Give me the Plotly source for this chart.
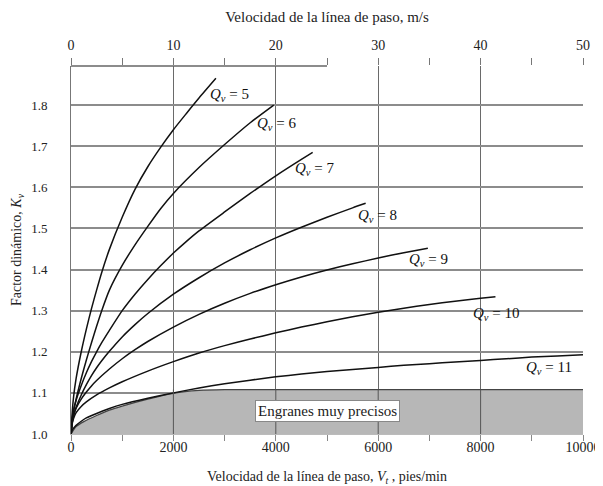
import plotly.graph_objects as go

# ---------------- data ----------------
QUALITY = [5, 6, 7, 8, 9, 10, 11]

V_Q5 = [0, 25, 50, 100, 200, 300, 400, 500, 600, 750, 1000, 1250, 1500, 1750, 2000, 2250, 2500, 2830]
K_Q5 = [1.0, 1.055, 1.09, 1.135, 1.2, 1.255, 1.305, 1.35, 1.393, 1.449, 1.527, 1.595, 1.65, 1.697, 1.74, 1.779, 1.817, 1.865]

V_Q6 = [0, 25, 50, 100, 200, 300, 400, 500, 600, 750, 1000, 1250, 1500, 1750, 2000, 2500, 3000, 3500, 3960]
K_Q6 = [1.0, 1.035, 1.055, 1.085, 1.135, 1.18, 1.222, 1.262, 1.3, 1.35, 1.41, 1.46, 1.505, 1.548, 1.585, 1.648, 1.704, 1.757, 1.80]

V_Q7 = [0, 25, 50, 100, 200, 300, 400, 500, 600, 750, 1000, 1250, 1500, 1750, 2000, 2250, 2500, 3000, 3500, 4000, 4500, 4720]
K_Q7 = [1.0, 1.04, 1.058, 1.082, 1.118, 1.149, 1.176, 1.2, 1.222, 1.252, 1.3, 1.34, 1.376, 1.409, 1.44, 1.468, 1.494, 1.54, 1.585, 1.628, 1.668, 1.685]

V_Q8 = [0, 25, 50, 100, 200, 300, 400, 500, 600, 750, 1000, 1250, 1500, 2000, 2500, 3000, 3500, 4000, 4500, 5000, 5500, 5755]
K_Q8 = [1.0, 1.028, 1.045, 1.065, 1.095, 1.12, 1.142, 1.161, 1.178, 1.201, 1.236, 1.266, 1.293, 1.34, 1.38, 1.416, 1.448, 1.477, 1.503, 1.527, 1.55, 1.561]

V_Q9 = [0, 25, 50, 100, 200, 300, 400, 500, 750, 1000, 1250, 1500, 2000, 2500, 3000, 3500, 4000, 4500, 5000, 5500, 6000, 6500, 6970]
K_Q9 = [1.0, 1.03, 1.045, 1.063, 1.085, 1.102, 1.117, 1.13, 1.158, 1.183, 1.205, 1.225, 1.26, 1.291, 1.318, 1.342, 1.363, 1.382, 1.399, 1.414, 1.428, 1.441, 1.452]

V_Q10 = [0, 25, 50, 100, 200, 300, 500, 750, 1000, 1500, 2000, 2500, 3000, 3500, 4000, 4500, 5000, 5500, 6000, 6500, 7000, 7500, 8000, 8290]
K_Q10 = [1.0, 1.026, 1.038, 1.052, 1.067, 1.078, 1.095, 1.112, 1.127, 1.153, 1.176, 1.197, 1.215, 1.231, 1.246, 1.26, 1.273, 1.285, 1.296, 1.306, 1.315, 1.323, 1.33, 1.334]

V_Q11 = [0, 25, 50, 100, 200, 300, 500, 750, 1000, 1500, 2000, 2500, 3000, 3500, 4000, 4500, 5000, 5500, 6000, 6500, 7000, 7500, 8000, 8500, 9000, 9500, 10000]
K_Q11 = [1.0, 1.009, 1.014, 1.021, 1.031, 1.039, 1.05, 1.062, 1.072, 1.087, 1.1, 1.112, 1.122, 1.131, 1.139, 1.146, 1.152, 1.157, 1.162, 1.167, 1.171, 1.175, 1.179, 1.183, 1.187, 1.19, 1.193]

# shaded "very precise gears" zone (upper boundary)
V_SHADE = [0, 100, 250, 500, 750, 1000, 1500, 2000, 2500, 3000, 10000]
K_SHADE = [1.0, 1.018, 1.03, 1.045, 1.058, 1.068, 1.085, 1.099, 1.106, 1.108, 1.108]

X_TICKS = [0, 2000, 4000, 6000, 8000, 10000]
TOP_TICKS = [0, 10, 20, 30, 40, 50]
Y_TICKS = [1.0, 1.1, 1.2, 1.3, 1.4, 1.5, 1.6, 1.7, 1.8]

SERIES_V = [V_Q5, V_Q6, V_Q7, V_Q8, V_Q9, V_Q10, V_Q11]
SERIES_K = [K_Q5, K_Q6, K_Q7, K_Q8, K_Q9, K_Q10, K_Q11]

# ---------------- label placement (layout) ----------------
LABEL_V = [3100, 4020, 4755, 5980, 6990, 8310, 9340]
LABEL_K = [1.825, 1.755, 1.645, 1.531, 1.422, 1.293, 1.16]
BOX_V, BOX_K = 5000, 1.055
TOP_LINE_END = 25

FONT = "Liberation Serif"

fig = go.Figure()

fig.add_trace(go.Scatter(
    x=V_SHADE, y=K_SHADE, mode="lines", fill="tozeroy",
    fillcolor="#b7b7b7", line=dict(color="#444", width=1.3, shape="spline", smoothing=0.6),
    hoverinfo="skip", showlegend=False))

for q, vs, ks in zip(QUALITY, SERIES_V, SERIES_K):
    fig.add_trace(go.Scatter(
        x=vs, y=ks, mode="lines", name=f"Qv = {q}",
        line=dict(color="#111", width=1.5, shape="spline", smoothing=0.6),
        showlegend=False))

# invisible trace so the top (m/s) axis is drawn
fig.add_trace(go.Scatter(x=[TOP_TICKS[0], TOP_TICKS[-1]], y=[1.0, 1.0],
                         xaxis="x2", mode="lines", line=dict(width=0),
                         hoverinfo="skip", showlegend=False))

# vertical grid lines continue through the shaded zone
for v in X_TICKS[1:-1]:
    fig.add_shape(type="line", xref="x", yref="y", x0=v, x1=v,
                  y0=Y_TICKS[0], y1=K_SHADE[-1], layer="above",
                  line=dict(color="#555", width=1))

for q, lv, lk in zip(QUALITY, LABEL_V, LABEL_K):
    fig.add_annotation(x=lv, y=lk, text=f"<i>Q</i><sub><i>v</i></sub> = {q}",
                       showarrow=False, font=dict(family=FONT, size=15, color="#111"))

fig.add_annotation(x=BOX_V, y=BOX_K, text="Engranes muy precisos", showarrow=False,
                   font=dict(family=FONT, size=15, color="#222"),
                   bgcolor="white", bordercolor="#888", borderwidth=1, borderpad=2)

# partial top scale line
fig.add_shape(type="line", xref="x2", yref="paper", x0=0, x1=TOP_LINE_END, y0=1, y1=1,
              line=dict(color="#666", width=1.5))

# the page body adds an 8px offset, so the figure is sized to fit the window
fig.update_layout(
    width=595, height=478,
    margin=dict(l=63, r=20, t=58, b=52),
    paper_bgcolor="white", plot_bgcolor="white",
    font=dict(family=FONT, size=13, color="#222"),
    xaxis=dict(
        range=[0, 10000], tickvals=X_TICKS, ticktext=[str(t) for t in X_TICKS],
        showgrid=True, gridcolor="#6a6a6a", gridwidth=1,
        showline=True, linecolor="#bbb", linewidth=1,
        ticks="", zeroline=False, automargin=False,
        minor=dict(dtick=1000, ticks="outside", ticklen=6, tickcolor="#888", showgrid=False),
        tickfont=dict(family=FONT, size=14),
        title=dict(text="Velocidad de la línea de paso, <i>V</i><sub><i>t</i></sub> , pies/min",
                   font=dict(family=FONT, size=14), standoff=18),
    ),
    xaxis2=dict(
        range=[0, 50], overlaying="x", side="top", anchor="y",
        tickvals=TOP_TICKS, showgrid=False, showline=False, zeroline=False,
        ticks="", ticklabelstandoff=12, automargin=False,
        minor=dict(dtick=5, ticks="outside", ticklen=7, tickcolor="#777"),
        tickfont=dict(family=FONT, size=14),
        title=dict(text="Velocidad de la línea de paso, m/s",
                   font=dict(family=FONT, size=15), standoff=11),
    ),
    yaxis=dict(
        range=[1.0, 1.895], tickvals=Y_TICKS, tickformat=".1f",
        showgrid=True, gridcolor="#8c8c8c", gridwidth=1.5,
        showline=True, linecolor="#777", linewidth=1,
        ticks="", zeroline=False, ticklabelstandoff=20, automargin=False,
        tickfont=dict(family=FONT, size=13),
        title=dict(text="Factor dinámico, <i>K</i><sub><i>v</i></sub>",
                   font=dict(family=FONT, size=14), standoff=6),
    ),
)

fig.write_html("out.html")
